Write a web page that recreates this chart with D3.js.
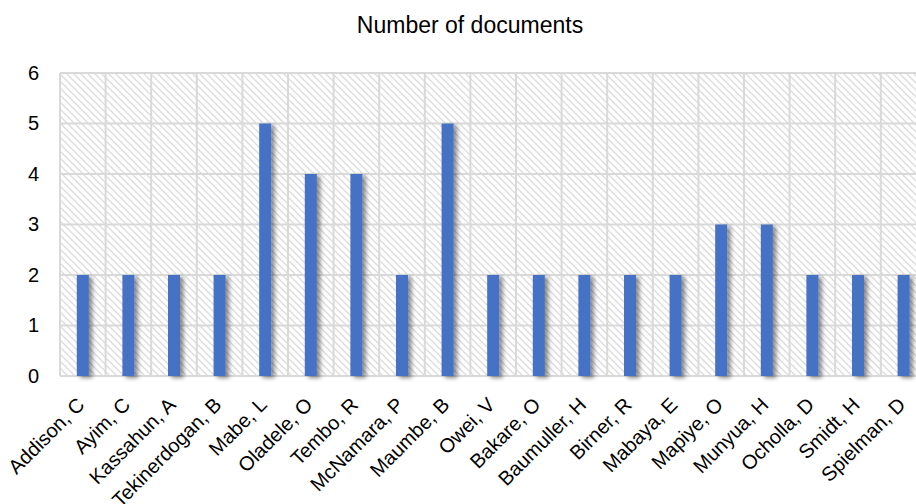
<!DOCTYPE html>
<html>
<head>
<meta charset="utf-8">
<script src="https://cdn.jsdelivr.net/npm/d3@7"></script>
<style>
  html, body { margin: 0; padding: 0; background: #fff; overflow: hidden; }
  svg { display: block; font-family: "Liberation Sans", Arial, sans-serif; }
</style>
</head>
<body>
<svg id="chart" width="916" height="504"></svg>
<script>
const authors = ["Addison, C", "Ayim, C", "Kassahun, A", "Tekinerdogan, B", "Mabe, L",
  "Oladele, O", "Tembo, R", "McNamara, P", "Maumbe, B", "Owei, V", "Bakare, O",
  "Baumuller, H", "Birner, R", "Mabaya, E", "Mapiye, O", "Munyua, H", "Ocholla, D",
  "Smidt, H", "Spielman, D"];
const documents = [2, 2, 2, 2, 5, 4, 4, 2, 5, 2, 2, 2, 2, 2, 3, 3, 2, 2, 2];
const yTicks = [0, 1, 2, 3, 4, 5, 6];
const chartTitle = "Number of documents";

const svg = d3.select("#chart");
const margin = { left: 60, top: 73, bottom: 376 };
const plotRight = margin.left + authors.length * 45.6;

const x = d3.scaleBand().domain(authors).range([margin.left, plotRight]).padding(0);
const y = d3.scaleLinear().domain([0, 6]).range([margin.bottom, margin.top]);

const defs = svg.append("defs");
const pat = defs.append("pattern")
  .attr("id", "hatch").attr("patternUnits", "userSpaceOnUse")
  .attr("width", 7).attr("height", 7);
pat.append("rect").attr("width", 7).attr("height", 7).attr("fill", "#fff");
pat.append("path")
  .attr("d", "M-1,-1 L8,8 M-4,3 L4,11 M3,-4 L11,4")
  .attr("stroke", "#dcdcdc").attr("stroke-width", 1.3);

const shadow = defs.append("filter").attr("id", "barShadow")
  .attr("x", "-50%").attr("y", "-10%").attr("width", "250%").attr("height", "130%");
shadow.append("feDropShadow")
  .attr("dx", 3.5).attr("dy", 2).attr("stdDeviation", 2.2)
  .attr("flood-color", "#000").attr("flood-opacity", 0.45);

// hatched plot background
svg.append("rect")
  .attr("x", margin.left).attr("y", margin.top)
  .attr("width", plotRight - margin.left).attr("height", margin.bottom - margin.top)
  .attr("fill", "url(#hatch)");

// horizontal gridlines
svg.append("g").selectAll("line").data(yTicks).join("line")
  .attr("x1", margin.left).attr("x2", plotRight)
  .attr("y1", d => y(d)).attr("y2", d => y(d))
  .attr("stroke", "#d9d9d9").attr("stroke-width", 2);

// vertical gridlines at category boundaries
const bounds = authors.map(a => x(a)).concat([plotRight]);
svg.append("g").selectAll("line").data(bounds).join("line")
  .attr("x1", d => d).attr("x2", d => d)
  .attr("y1", margin.top).attr("y2", margin.bottom)
  .attr("stroke", "#d9d9d9").attr("stroke-width", 2);

// bars
const barW = 12;
svg.append("g").selectAll("rect").data(documents).join("rect")
  .attr("x", (d, i) => x(authors[i]) + x.bandwidth() / 2 - barW / 2)
  .attr("y", d => y(d))
  .attr("width", barW)
  .attr("height", d => y(0) - y(d))
  .attr("fill", "#4472c4")
  .attr("filter", "url(#barShadow)");

// y axis labels
const yAxis = d3.axisLeft(y).tickValues(yTicks).tickFormat(d3.format("d"))
  .tickSize(0).tickPadding(0);
const yg = svg.append("g").attr("transform", `translate(39,0)`).call(yAxis);
yg.select(".domain").remove();
yg.selectAll("text").attr("font-size", 20).attr("fill", "#000")
  .attr("font-family", "Liberation Sans, Arial, sans-serif");

// x axis labels, rotated
const xAxis = d3.axisBottom(x).tickSize(0).tickPadding(0);
const xg = svg.append("g").attr("transform", `translate(0,${margin.bottom})`).call(xAxis);
xg.select(".domain").remove();
xg.selectAll("text")
  .attr("font-size", 20).attr("fill", "#000")
  .attr("font-family", "Liberation Sans, Arial, sans-serif")
  .attr("text-anchor", "end")
  .attr("dy", 0)
  .attr("transform", "translate(3,30) rotate(-45)");

// title
svg.append("text")
  .attr("x", 470).attr("y", 33)
  .attr("text-anchor", "middle")
  .attr("font-size", 23).attr("fill", "#000")
  .text(chartTitle);
</script>
</body>
</html>
